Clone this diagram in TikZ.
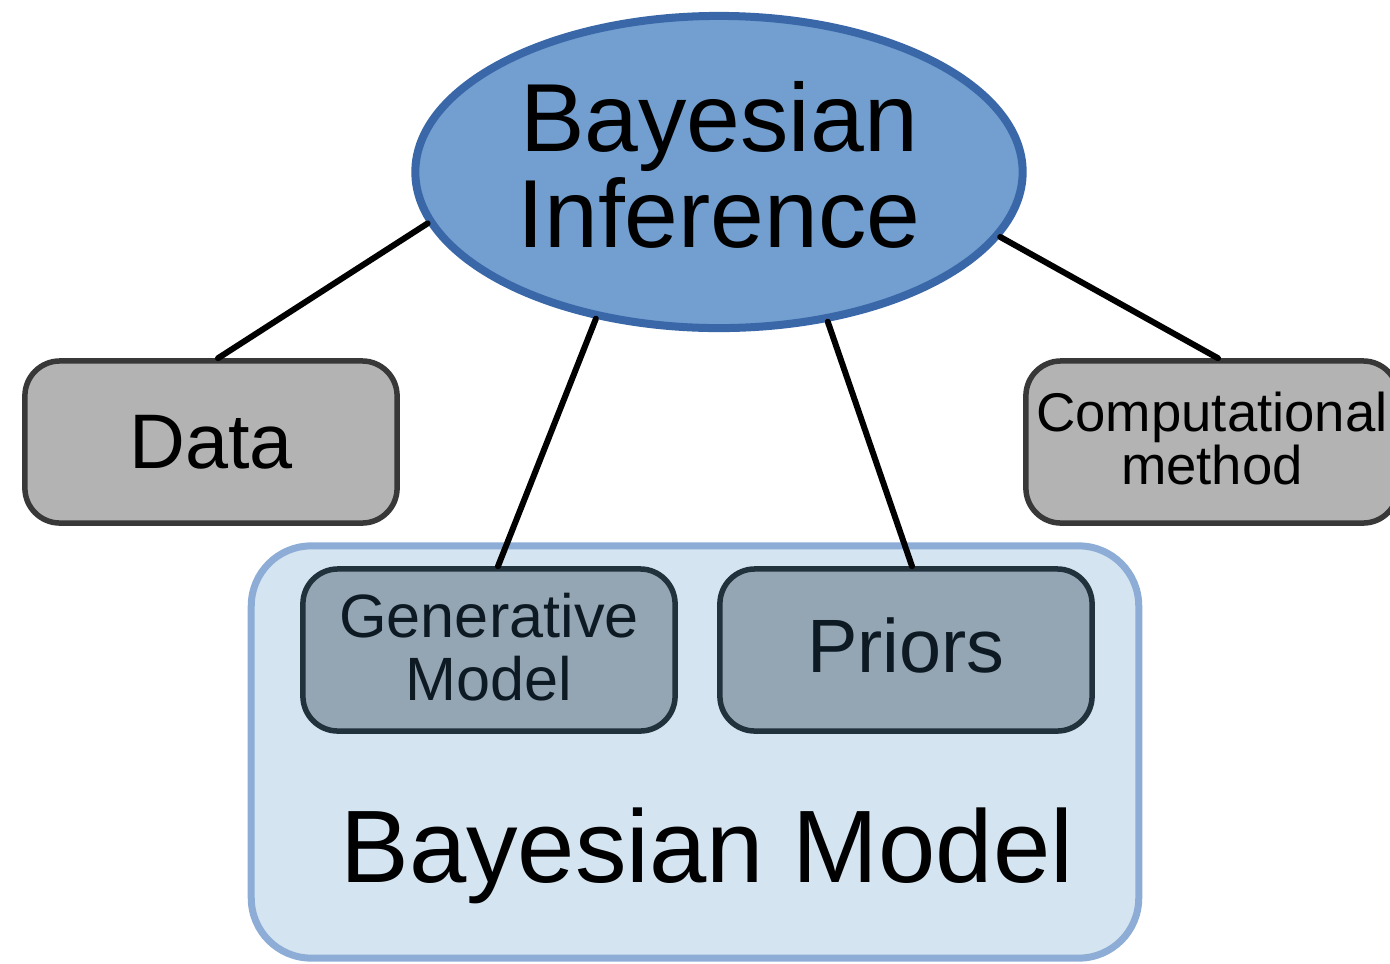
\documentclass[tikz,border=0pt]{standalone}
\usepackage{fontspec}
\setmainfont{Liberation Sans}
\usetikzlibrary{shapes.geometric}

\definecolor{inferfill}{HTML}{729FCF}
\definecolor{inferline}{HTML}{3A67A8}
\definecolor{boxgray}{HTML}{B3B3B3}
\definecolor{boxline}{HTML}{383838}
\definecolor{modelfill}{HTML}{D4E4F1}
\definecolor{modelline}{HTML}{8EADD6}
\definecolor{partfill}{HTML}{94A6B3}
\definecolor{partline}{HTML}{22323D}
\definecolor{parttext}{HTML}{0D1A24}

\begin{document}
\begin{tikzpicture}[x=0.01cm,y=-0.01cm,line cap=round,
  box/.style={draw=boxline,fill=boxgray,line width=0.055cm,rounded corners=0.35cm,
    minimum width=3.72cm,minimum height=1.62cm,align=center,inner sep=0pt},
  part/.style={box,draw=partline,fill=partfill,text=parttext},
  link/.style={line width=0.06cm}]
  \useasboundingbox (0,0) rectangle (1390,963);
  % outer model frame
  \node[draw=modelline,fill=modelfill,line width=0.07cm,rounded corners=0.6cm,
    minimum width=8.87cm,minimum height=4.12cm,inner sep=0pt] (model) at (695,752) {};
  \node[anchor=base,font=\fontsize{29.3}{32}\selectfont] (modellabel) at (707,882) {Bayesian Model};
  \node[part,font=\fontsize{17.4}{18}\selectfont,text depth=0.06cm] (gen) at (489,650) {Generative\\Model};
  \node[part,font=\fontsize{21.5}{24}\selectfont,text depth=0.1cm] (priors) at (906,650) {Priors};
  % side boxes
  \node[box,font=\fontsize{22}{26}\selectfont] (data) at (211,442) {Data};
  \node[box,font=\fontsize{15.5}{15}\selectfont,text depth=0.08cm] (comp) at (1212,442) {Computational\\method};
  % top ellipse
  \node[ellipse,draw=inferline,fill=inferfill,line width=0.08cm,
    minimum width=6.07cm,minimum height=3.12cm,inner sep=0pt,text depth=0.16cm,
    font=\fontsize{27.5}{27.3}\selectfont,align=center] (infer) at (719,172) {Bayesian\\Inference};
  \draw[link] (infer.190) -- ([xshift=0.07cm]data.north);
  \draw[link] (infer.230) -- ([xshift=0.09cm]gen.north);
  \draw[link] (infer.306) -- ([xshift=0.06cm]priors.north);
  \draw[link] (infer.347) -- ([xshift=0.06cm]comp.north);
\end{tikzpicture}
\end{document}
